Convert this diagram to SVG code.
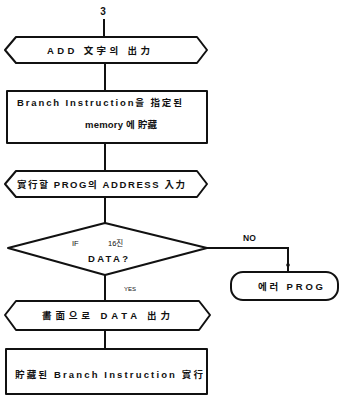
<svg xmlns="http://www.w3.org/2000/svg" width="348" height="403" viewBox="0 0 348 403">
<style>
.s{fill:none;stroke:#111;stroke-width:2;stroke-linejoin:round}
.c{fill:none;stroke:#111;stroke-width:2}
text{font-family:"Liberation Sans","Noto Sans CJK KR",sans-serif;font-size:9.5px;font-weight:bold;fill:#111}
</style>
<rect width="348" height="403" fill="#fff"/>
<text x="103" y="15" text-anchor="middle" style="font-size:10px">3</text>
<g id="connectors">
<line class="c" x1="104" y1="19" x2="104" y2="36"/>
<line class="c" x1="105" y1="64" x2="105" y2="91"/>
<line class="c" x1="105" y1="143" x2="105" y2="170"/>
<line class="c" x1="105" y1="197" x2="105" y2="223"/>
<polyline class="c" points="207,248 288,248 288,272"/>
<circle cx="288" cy="265" r="1.8" fill="#111"/>
<line class="c" x1="105" y1="275" x2="105" y2="300"/>
<line class="c" x1="105" y1="330" x2="105" y2="349"/>
<text x="243" y="241" style="font-size:8.5px">NO</text>
<text x="124" y="291" style="font-size:6px;font-weight:normal">YES</text>
</g>
<g id="n1">
<polygon class="s" points="16,37 197,37 207,50 197,63 16,63 5,50"/>
<text x="47" y="54" textLength="103" lengthAdjust="spacing">ADD 文字의 出力</text>
</g>
<g id="n2">
<rect class="s" x="7" y="91" width="200" height="52"/>
<text x="17" y="106" textLength="165" lengthAdjust="spacing">Branch Instruction을 指定된</text>
<text x="85" y="128" textLength="72" lengthAdjust="spacing">memory 에 貯藏</text>
</g>
<g id="n3">
<polygon class="s" points="16,171 197,171 207,184 197,197 16,197 5,184"/>
<text x="17" y="188" textLength="168" lengthAdjust="spacing">實行할 PROG의 ADDRESS 入力</text>
</g>
<g id="n4">
<polygon class="s" points="105,223 207,248 105,275 8,248"/>
<text x="72" y="246" style="font-weight:normal;font-size:7.5px">IF</text>
<text x="108" y="246" style="font-weight:normal;font-size:7.5px">16진</text>
<text x="88" y="262" textLength="40" lengthAdjust="spacing">DATA?</text>
</g>
<g id="n5">
<polygon class="s" points="16,301 199,301 210,315 199,330 16,330 5,315"/>
<text x="42" y="319" textLength="128" lengthAdjust="spacing">畵面으로 DATA 出力</text>
</g>
<g id="n6">
<rect class="s" x="6" y="349" width="201" height="45"/>
<text x="15" y="378" textLength="188" lengthAdjust="spacing">貯藏된 Branch Instruction 實行</text>
</g>
<g id="n7">
<rect class="s" x="231" y="272" width="107" height="28" rx="12"/>
<text x="258" y="290" textLength="65" lengthAdjust="spacing">에러 PROG</text>
</g>
</svg>
